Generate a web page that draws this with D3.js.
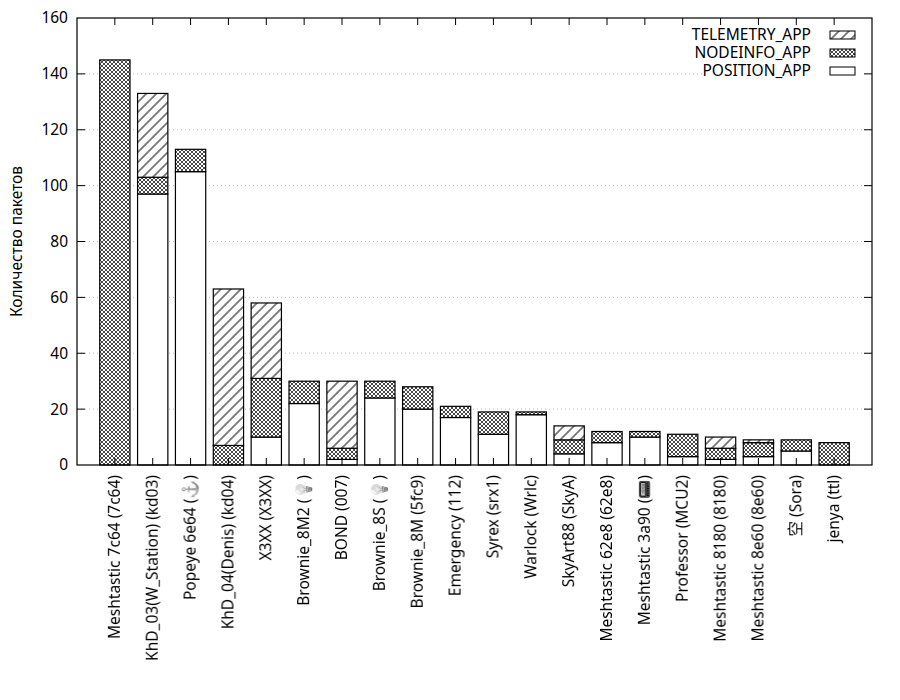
<!DOCTYPE html>
<html><head><meta charset="utf-8">
<script src="https://cdn.jsdelivr.net/npm/d3@7/dist/d3.min.js"></script>
<style>body{margin:0;background:#fff}svg{display:block}text{font-family:"Noto Sans","Noto Sans CJK SC","Open Sans",sans-serif}</style>
</head><body>
<script>
const categories = ["Meshtastic 7c64 (7c64)","KhD_03(W_Station) (kd03)","Popeye 6e64 (⚓)","KhD_04(Denis) (kd04)","X3XX (X3XX)","Brownie_8M2 (💡)","BOND (007)","Brownie_8S (💡)","Brownie_8M (5fc9)","Emergency (112)","Syrex (srx1)","Warlock (Wrlc)","SkyArt88 (SkyA)","Meshtastic 62e8 (62e8)","Meshtastic 3a90 (📟)","Professor (MCU2)","Meshtastic 8180 (8180)","Meshtastic 8e60 (8e60)","空 (Sora)","jenya (ttl)"];
const positionApp  = [0, 97, 105, 0, 10, 22, 2, 24, 20, 17, 11, 18, 4, 8, 10, 3, 2, 3, 5, 0];
const nodeinfoApp  = [145, 6, 8, 7, 21, 8, 4, 6, 8, 4, 8, 1, 5, 4, 2, 8, 4, 5, 4, 8];
const telemetryApp = [0, 30, 0, 56, 27, 0, 24, 0, 0, 0, 0, 0, 5, 0, 0, 0, 4, 1, 0, 0];
const yTicks = [0, 20, 40, 60, 80, 100, 120, 140, 160];
const seriesNames = ["POSITION_APP", "NODEINFO_APP", "TELEMETRY_APP"];

const W = 900, H = 700;
const m = {l: 77, r: 28, t: 18, b: 235};
const svg = d3.select("body").append("svg").attr("width", W).attr("height", H);
const defs = svg.append("defs");
const ph = defs.append("pattern").attr("id","hatch").attr("patternUnits","userSpaceOnUse").attr("width",4).attr("height",4);
ph.append("rect").attr("width",4).attr("height",4).attr("fill","#fff");
ph.append("path").attr("d","M0,0L4,4M4,0L0,4").attr("stroke","#333").attr("stroke-width",0.9);
const pd = defs.append("pattern").attr("id","diag").attr("patternUnits","userSpaceOnUse").attr("width",10).attr("height",10);
pd.append("rect").attr("width",10).attr("height",10).attr("fill","#fff");
pd.append("path").attr("d","M-2,12L12,-2M-2,2L2,-2M8,12L12,8").attr("stroke","#777").attr("stroke-width",1.8);
const gf = defs.append("filter").attr("id","gray");
gf.append("feColorMatrix").attr("type","saturate").attr("values","0");
const fills = {"POSITION_APP":"#fff","NODEINFO_APP":"url(#hatch)","TELEMETRY_APP":"url(#diag)"};

const x = d3.scaleLinear().domain([-1, categories.length]).range([m.l, W - m.r]);
const y = d3.scaleLinear().domain([0, 160]).range([H - m.b, m.t]);
const bw = (x(0.8) - x(0));

// grid
svg.append("g").selectAll("line").data(yTicks.slice(1, -1)).join("line")
  .attr("x1", m.l).attr("x2", W - m.r).attr("y1", d => y(d)).attr("y2", d => y(d))
  .attr("stroke", "#bbb").attr("stroke-width", 1).attr("stroke-dasharray", "1,3");

// stacked bars
const data = categories.map((c, i) => ({c, i, POSITION_APP: positionApp[i], NODEINFO_APP: nodeinfoApp[i], TELEMETRY_APP: telemetryApp[i]}));
const stack = d3.stack().keys(seriesNames)(data);
stack.forEach(s => {
  svg.append("g").selectAll("rect").data(s.filter(d => d[1] - d[0] > 0)).join("rect")
    .attr("x", d => x(d.data.i) - bw / 2).attr("width", bw)
    .attr("y", d => y(d[1])).attr("height", d => y(d[0]) - y(d[1]))
    .attr("fill", fills[s.key]).attr("stroke", "#000").attr("stroke-width", 1.2);
});

// legend (opaque)
const lg = svg.append("g");
lg.append("rect").attr("x", 702).attr("y", m.t + 1).attr("width", W - m.r - 703).attr("height", 64).attr("fill", "#fff");
const legendOrder = ["TELEMETRY_APP", "NODEINFO_APP", "POSITION_APP"];
legendOrder.forEach((k, j) => {
  const cy = 35 + j * 18;
  lg.append("text").attr("x", 811).attr("y", cy).attr("dy", "0.35em").attr("text-anchor", "end")
    .attr("font-size", 15.5).text(k);
  lg.append("rect").attr("x", 830).attr("y", cy - 4).attr("width", 25).attr("height", 8)
    .attr("fill", fills[k]).attr("stroke", "#000").attr("stroke-width", 1);
});

// border
svg.append("rect").attr("x", m.l).attr("y", m.t).attr("width", W - m.r - m.l).attr("height", H - m.b - m.t)
  .attr("fill", "none").attr("stroke", "#000").attr("stroke-width", 1.2);

// y ticks
const yax = svg.append("g");
yTicks.forEach(t => {
  if (t > 0 && t < 160) {
    yax.append("line").attr("x1", m.l).attr("x2", m.l + 8).attr("y1", y(t)).attr("y2", y(t)).attr("stroke", "#000");
    yax.append("line").attr("x1", W - m.r).attr("x2", W - m.r - 8).attr("y1", y(t)).attr("y2", y(t)).attr("stroke", "#000");
  }
  yax.append("text").attr("x", m.l - 9).attr("y", y(t)).attr("dy", "0.35em").attr("text-anchor", "end")
    .attr("font-size", 15.5).text(t);
});

// x ticks & labels
const xax = svg.append("g");
categories.forEach((c, i) => {
  xax.append("line").attr("x1", x(i)).attr("x2", x(i)).attr("y1", m.t).attr("y2", m.t + 7).attr("stroke", "#000");
  xax.append("line").attr("x1", x(i)).attr("x2", x(i)).attr("y1", H - m.b).attr("y2", H - m.b - 7).attr("stroke", "#000");
  xax.append("text").attr("transform", `translate(${x(i)},${H - m.b + 10}) rotate(-90)`)
    .attr("dy", "0.35em").attr("text-anchor", "end").attr("font-size", 15.5)
    .attr("filter", "url(#gray)").text(c);
});

svg.append("text").attr("transform", `translate(17,${(m.t + H - m.b) / 2}) rotate(-90)`)
  .attr("dy", "0.35em").attr("text-anchor", "middle").attr("font-size", 15.5).text("Количество пакетов");
</script>
</body></html>
